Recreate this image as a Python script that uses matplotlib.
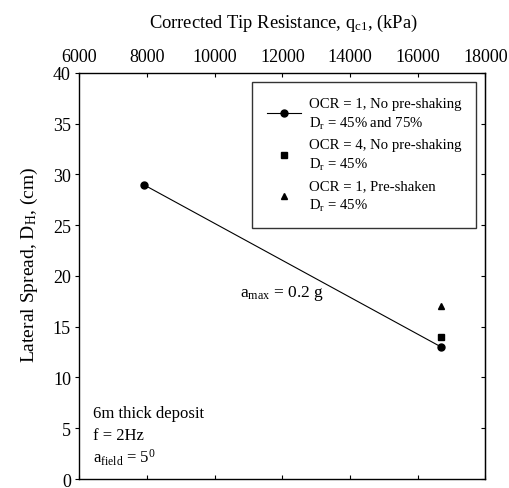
import matplotlib
matplotlib.use('Agg')
import matplotlib.pyplot as plt

plt.rcParams['font.family'] = ['Liberation Serif', 'DejaVu Serif']
plt.rcParams['mathtext.fontset'] = 'custom'
plt.rcParams['mathtext.rm'] = 'Liberation Serif'
plt.rcParams['mathtext.it'] = 'Liberation Serif'

# data
qc1_ocr1 = [7900, 16700]
dh_ocr1 = [29, 13]
qc1_ocr4 = [16700]
dh_ocr4 = [14]
qc1_pre = [16700]
dh_pre = [17]

labels = ['OCR = 1, No pre-shaking\n$\\mathregular{D_r}$ = 45% and 75%',
          'OCR = 4, No pre-shaking\n$\\mathregular{D_r}$ = 45%',
          'OCR = 1, Pre-shaken\n$\\mathregular{D_r}$ = 45%']
xticks = [6000, 8000, 10000, 12000, 14000, 16000, 18000]
yticks = [0, 5, 10, 15, 20, 25, 30, 35, 40]

fig = plt.figure(figsize=(5.1, 4.89), dpi=100)
ax = fig.add_axes([0.1555, 0.0184, 0.796, 0.8303])

ax.plot(qc1_ocr1, dh_ocr1, 'k-', marker='o', ms=5, lw=0.8, label=labels[0])
ax.plot(qc1_ocr4, dh_ocr4, 'ks', ms=5, ls='none', label=labels[1])
ax.plot(qc1_pre, dh_pre, 'k^', ms=5, ls='none', label=labels[2])

ax.set_xlim(6000, 18000)
ax.set_ylim(0, 40)
ax.set_xticks(xticks)
ax.set_yticks(yticks)
ax.xaxis.tick_top()
ax.xaxis.set_label_position('top')
ax.tick_params(axis='x', direction='in', top=True, bottom=True,
               labeltop=True, labelbottom=False, length=3, labelsize=13, pad=6)
ax.tick_params(axis='y', direction='out', left=True, right=False,
               length=3, labelsize=13, pad=3)
sec = ax.secondary_yaxis('right')
sec.set_yticks(yticks)
sec.tick_params(direction='in', length=3, labelright=False)
for s in ax.spines.values():
    s.set_linewidth(1.0)

ax.set_xlabel('Corrected Tip Resistance, $\\mathregular{q_{c1}}$, (kPa)', fontsize=13.3)
ax.xaxis.set_label_coords(0.503, 1.113)
ax.set_ylabel('Lateral Spread, $\\mathregular{D_H}$, (cm)', fontsize=14)
ax.yaxis.set_label_coords(-0.097, 0.531)

ax.text(13250, 18.0, '$\\mathregular{a_{max}}$ = 0.2 g', fontsize=12.5,
        ha='right', va='baseline')
ax.text(0.034, 0.163, '6m thick deposit', transform=ax.transAxes,
        fontsize=12, va='center')
ax.text(0.034, 0.108, 'f = 2Hz', transform=ax.transAxes,
        fontsize=12, va='center')
ax.text(0.034, 0.054, '$\\mathregular{a_{field}}$ = $\\mathregular{5^{0}}$',
        transform=ax.transAxes, fontsize=12, va='center')

leg = ax.legend(loc='upper right', bbox_to_anchor=(0.977, 0.978),
                borderaxespad=0, fancybox=False, edgecolor='0.2',
                framealpha=1, fontsize=10.6, handlelength=2.3,
                handletextpad=0.55, borderpad=1.0, labelspacing=0.5)
leg.get_frame().set_linewidth(1.0)
for t in leg.get_texts():
    t.set_linespacing(1.4)

fig.savefig('out.png', dpi=100)
